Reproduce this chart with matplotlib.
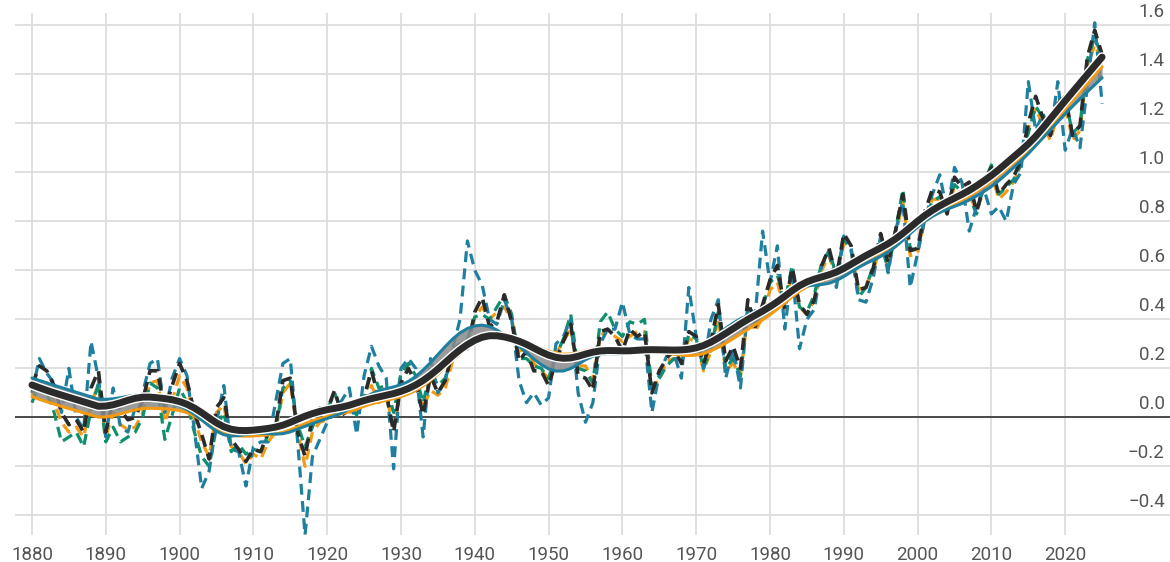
import numpy as np
import matplotlib
matplotlib.use("Agg")
import matplotlib.pyplot as plt
import matplotlib.patheffects as pe
import matplotlib.transforms as mtransforms

years = np.arange(1880, 2026)

black = [0.13, 0.21, 0.19, 0.13, 0.02, -0.03, -0.01, -0.06, 0.12, 0.19,
         -0.06, 0.08, 0.03, -0.01, 0.00, 0.07, 0.19, 0.19, 0.03, 0.13,
         0.22, 0.15, 0.02, -0.07, -0.17, 0.04, 0.08, -0.09, -0.13, -0.18,
         -0.13, -0.14, -0.06, -0.04, 0.15, 0.16, -0.06, -0.16, 0.00, 0.02,
         0.03, 0.11, 0.01, 0.03, 0.03, 0.08, 0.19, 0.08, 0.10, -0.06,
         0.14, 0.20, 0.14, 0.01, 0.17, 0.10, 0.15, 0.27, 0.30, 0.28,
         0.43, 0.49, 0.37, 0.39, 0.50, 0.39, 0.23, 0.27, 0.19, 0.19,
         0.13, 0.23, 0.31, 0.38, 0.17, 0.16, 0.11, 0.35, 0.36, 0.33,
         0.27, 0.36, 0.33, 0.35, 0.10, 0.19, 0.24, 0.28, 0.22, 0.35,
         0.33, 0.22, 0.31, 0.46, 0.23, 0.29, 0.20, 0.48, 0.37, 0.46,
         0.56, 0.62, 0.44, 0.61, 0.46, 0.42, 0.48, 0.62, 0.69, 0.57,
         0.75, 0.70, 0.52, 0.53, 0.61, 0.75, 0.63, 0.76, 0.91, 0.68,
         0.69, 0.84, 0.93, 0.92, 0.83, 0.98, 0.94, 0.96, 0.84, 0.95,
         1.02, 0.91, 0.95, 0.98, 1.05, 1.20, 1.31, 1.22, 1.15, 1.28,
         1.31, 1.15, 1.19, 1.47, 1.58, 1.48]

orange = [0.09, 0.15, 0.14, 0.06, -0.02, -0.06, -0.04, -0.08, 0.06, 0.13,
          -0.08, 0.02, -0.03, -0.05, -0.04, 0.02, 0.14, 0.15, -0.02, 0.07,
          0.17, 0.12, -0.01, -0.10, -0.16, 0.02, 0.05, -0.12, -0.14, -0.19,
          -0.15, -0.17, -0.10, -0.06, 0.10, 0.14, -0.06, -0.20, -0.06, -0.02,
          -0.01, 0.06, 0.02, 0.02, 0.03, 0.05, 0.13, 0.06, 0.08, -0.03,
          0.10, 0.14, 0.13, 0.04, 0.11, 0.09, 0.12, 0.23, 0.26, 0.29,
          0.41, 0.45, 0.40, 0.43, 0.45, 0.40, 0.27, 0.28, 0.22, 0.19,
          0.16, 0.26, 0.31, 0.36, 0.21, 0.21, 0.15, 0.33, 0.36, 0.33,
          0.31, 0.33, 0.35, 0.35, 0.13, 0.15, 0.23, 0.24, 0.22, 0.32,
          0.31, 0.19, 0.27, 0.40, 0.19, 0.22, 0.17, 0.42, 0.35, 0.41,
          0.52, 0.55, 0.44, 0.59, 0.45, 0.42, 0.48, 0.60, 0.66, 0.57,
          0.71, 0.68, 0.52, 0.54, 0.60, 0.70, 0.62, 0.74, 0.88, 0.66,
          0.67, 0.81, 0.89, 0.89, 0.85, 0.94, 0.91, 0.91, 0.84, 0.93,
          1.00, 0.89, 0.92, 0.96, 1.03, 1.18, 1.26, 1.19, 1.13, 1.24,
          1.27, 1.13, 1.17, 1.43, 1.52, 1.45]

green = [0.06, 0.14, 0.10, 0.02, -0.10, -0.08, -0.06, -0.12, 0.03, 0.14,
         -0.10, -0.04, -0.10, -0.08, -0.06, 0.00, 0.14, 0.12, -0.09, 0.01,
         0.12, 0.06, -0.06, -0.16, -0.20, -0.04, 0.02, -0.14, -0.11, -0.15,
         -0.13, -0.14, -0.07, -0.05, 0.12, 0.15, -0.03, -0.12, -0.04, 0.04,
         0.03, 0.10, 0.02, 0.04, 0.01, 0.08, 0.20, 0.12, 0.13, 0.02,
         0.18, 0.22, 0.17, 0.06, 0.19, 0.13, 0.16, 0.27, 0.30, 0.32,
         0.41, 0.42, 0.40, 0.45, 0.50, 0.42, 0.24, 0.24, 0.21, 0.20,
         0.16, 0.25, 0.32, 0.42, 0.20, 0.19, 0.14, 0.39, 0.43, 0.36,
         0.33, 0.39, 0.38, 0.40, 0.12, 0.16, 0.21, 0.24, 0.22, 0.34,
         0.32, 0.20, 0.28, 0.43, 0.20, 0.24, 0.17, 0.45, 0.37, 0.45,
         0.55, 0.58, 0.47, 0.62, 0.45, 0.43, 0.50, 0.63, 0.68, 0.58,
         0.73, 0.68, 0.49, 0.53, 0.62, 0.72, 0.60, 0.76, 0.93, 0.69,
         0.68, 0.82, 0.88, 0.90, 0.86, 0.95, 0.92, 0.90, 0.83, 0.96,
         1.03, 0.91, 0.94, 0.97, 1.03, 1.16, 1.27, 1.22, 1.16, 1.27,
         1.30, 1.16, 1.19, 1.46, 1.55, 1.47]

blue = [0.10, 0.24, 0.18, 0.14, 0.02, 0.20, 0.00, -0.05, 0.31, 0.16,
        -0.08, 0.12, -0.04, -0.06, 0.04, 0.10, 0.22, 0.24, 0.02, 0.16,
        0.24, 0.17, -0.05, -0.29, -0.22, -0.02, 0.13, -0.13, -0.14, -0.28,
        -0.12, -0.10, -0.10, 0.06, 0.22, 0.24, -0.10, -0.48, -0.16, -0.09,
        -0.02, 0.02, 0.07, 0.12, -0.07, 0.17, 0.29, 0.21, 0.16, -0.21,
        0.20, 0.24, 0.20, -0.08, 0.24, 0.10, 0.15, 0.28, 0.40, 0.72,
        0.60, 0.54, 0.40, 0.38, 0.48, 0.40, 0.15, 0.06, 0.10, 0.05,
        0.08, 0.30, 0.33, 0.40, 0.10, -0.02, 0.06, 0.30, 0.36, 0.36,
        0.47, 0.34, 0.32, 0.32, 0.02, 0.18, 0.25, 0.26, 0.16, 0.53,
        0.33, 0.20, 0.40, 0.48, 0.16, 0.28, 0.12, 0.45, 0.42, 0.76,
        0.55, 0.70, 0.36, 0.60, 0.28, 0.40, 0.44, 0.62, 0.67, 0.53,
        0.74, 0.69, 0.48, 0.47, 0.57, 0.74, 0.59, 0.76, 0.88, 0.53,
        0.67, 0.81, 0.91, 0.99, 0.84, 1.02, 0.96, 0.76, 0.86, 0.93,
        0.83, 0.86, 0.80, 0.95, 1.00, 1.37, 1.17, 1.24, 1.15, 1.37,
        1.09, 1.18, 1.10, 1.35, 1.61, 1.28]

xtick_years = list(range(1880, 2021, 10))
ytick_values = [-0.4, -0.2, 0.0, 0.2, 0.4, 0.6, 0.8, 1.0, 1.2, 1.4, 1.6]
ytick_labels = ["\u22120.4", "\u22120.2", "0.0", "0.2", "0.4", "0.6", "0.8", "1.0", "1.2", "1.4", "1.6"]

C_ORANGE = "#f39a12"
C_BLUE = "#1f7f9f"
C_GREEN = "#0f8f6e"
C_BLACK = "#2b2b2b"


def lowess(x, y, frac=0.13):
    x = np.asarray(x, float)
    y = np.asarray(y, float)
    n = len(x)
    r = int(np.ceil(frac * n))
    out = np.empty(n)
    for i in range(n):
        d = np.abs(x - x[i])
        h = np.sort(d)[r]
        w = np.clip(1 - (d / h) ** 3, 0, 1) ** 3
        W = np.sum(w)
        xm = np.sum(w * x) / W
        ym = np.sum(w * y) / W
        b = np.sum(w * (x - xm) * (y - ym)) / np.sum(w * (x - xm) ** 2)
        out[i] = ym + b * (x[i] - xm)
    return out


plt.rcParams['font.family'] = ['Roboto', 'DejaVu Sans']
fig = plt.figure(figsize=(11.7, 5.62), dpi=100)
ax = fig.add_axes([15 / 1170, 27 / 562, 1 - 15 / 1170, (535 - 13) / 562])
ax.set_xlim(1877.7, 2034.2)
ax.set_ylim(-0.48, 1.65)

for s in ax.spines.values():
    s.set_visible(False)

ax.set_xticks(xtick_years)
ax.set_xticklabels([str(y) for y in xtick_years], fontsize=13.5, color="#555555")
ax.tick_params(axis='x', length=0, pad=8)
ax.set_yticks(ytick_values)
ax.set_yticklabels([])
ax.tick_params(axis='y', length=0)
ax.grid(True, color="#dddddd", linewidth=1.3, zorder=0)
ax.set_axisbelow(True)
ax.axhline(0, color="#222222", linewidth=1.1, zorder=1)

trans = mtransforms.blended_transform_factory(ax.transAxes, ax.transData)
for v, lab in zip(ytick_values, ytick_labels):
    ax.text(0.9955, v + 0.018, lab, transform=trans, ha='right', va='bottom',
            fontsize=13.5, color="#555555")

dash = (0, (3.4, 2.0))
ax.plot(years, orange, color=C_ORANGE, lw=2.3, ls=dash, zorder=2)
ax.plot(years, green, color=C_GREEN, lw=2.3, ls=dash, zorder=3)
ax.plot(years, blue, color=C_BLUE, lw=2.3, ls=dash, zorder=4)
ax.plot(years, black, color=C_BLACK, lw=2.6, ls=dash, zorder=5)

s_orange = lowess(years, orange)
s_blue = lowess(years, blue)
s_black = lowess(years, black)

ax.fill_between(years, np.minimum(s_orange, s_blue), np.maximum(s_orange, s_blue),
                color="#8a8a8a", alpha=0.85, lw=0, zorder=6)
ax.plot(years, s_orange, color=C_ORANGE, lw=2.2, zorder=7, solid_capstyle='round')
ax.plot(years, s_blue, color=C_BLUE, lw=2.2, zorder=7, solid_capstyle='round')
ax.plot(years, s_black, color=C_BLACK, lw=5.0, zorder=8, solid_capstyle='round',
        path_effects=[pe.Stroke(linewidth=7, foreground="white"), pe.Normal()])

fig.savefig("out.png", dpi=100, facecolor="white")
